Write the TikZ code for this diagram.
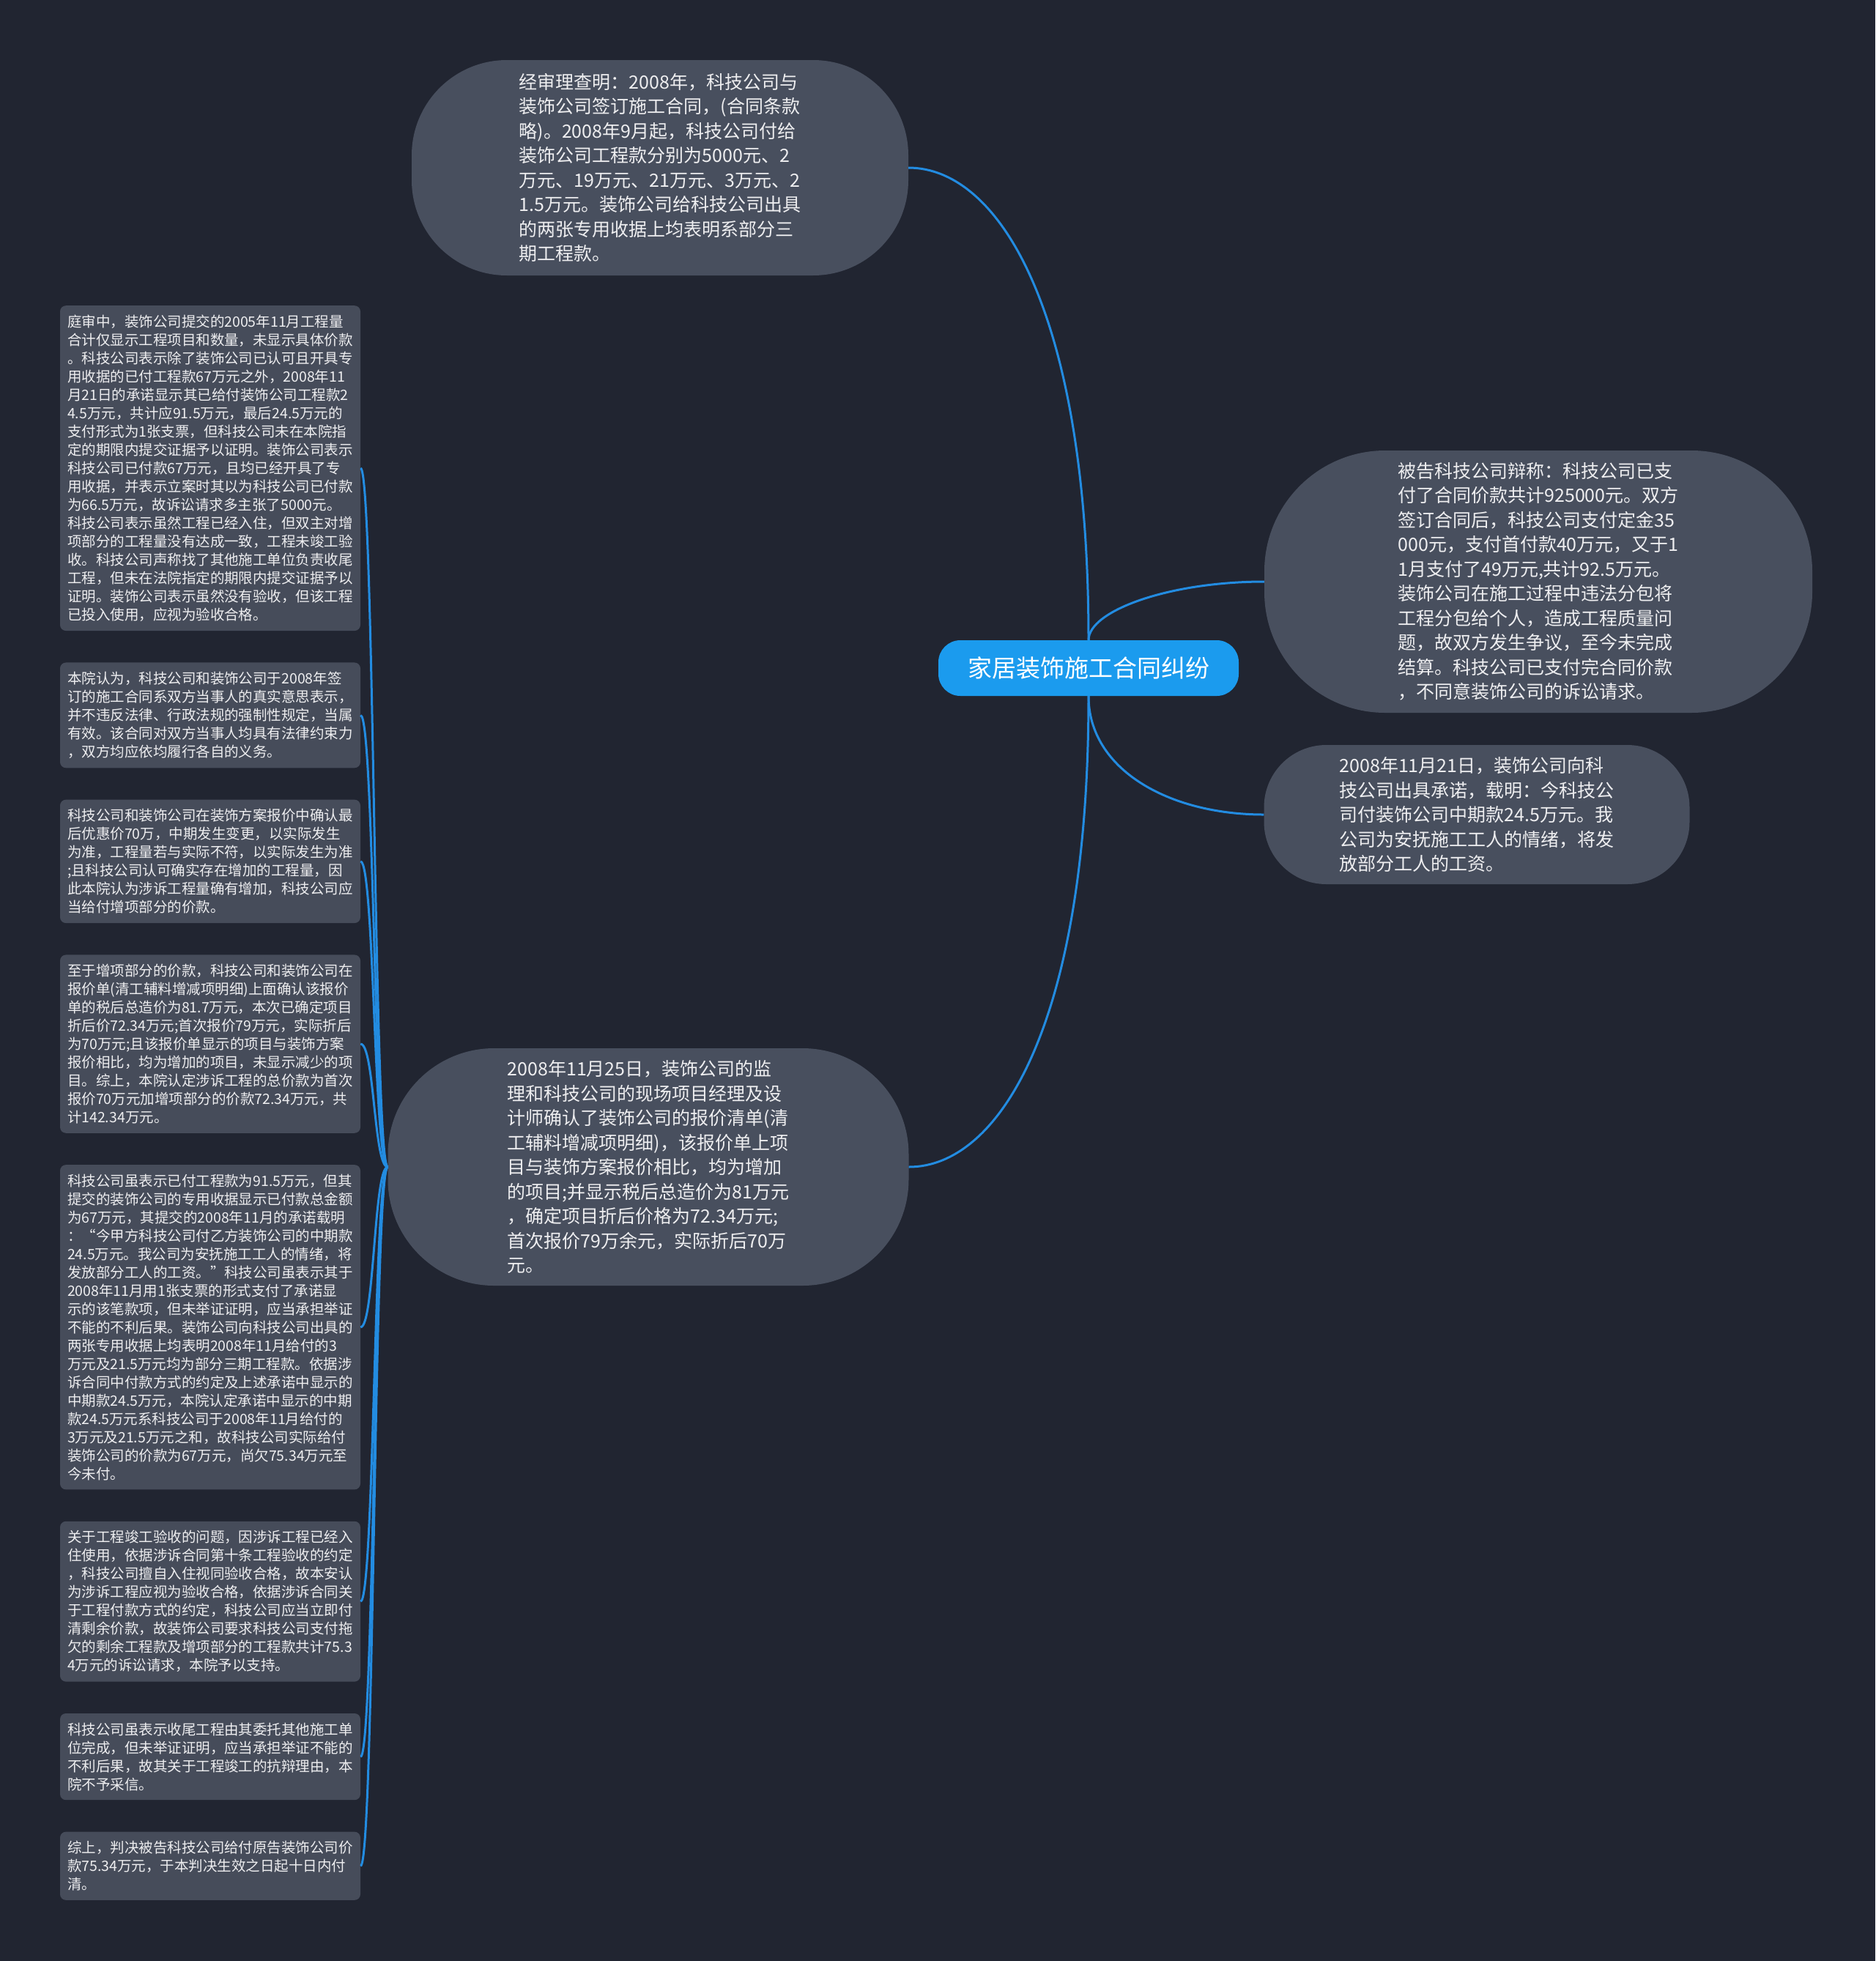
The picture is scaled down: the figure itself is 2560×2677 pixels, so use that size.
\documentclass[tikz,border=0pt]{standalone}
\usepackage{fontspec}
\usepackage{tikz}
\usetikzlibrary{positioning}
\newfontfamily\cjk{Noto Sans CJK SC}
\definecolor{bgc}{RGB}{33,37,49}
\definecolor{nodec}{RGB}{72,79,94}
\definecolor{leafc}{RGB}{70,76,90}
\definecolor{rootc}{RGB}{27,155,238}
\definecolor{linec}{RGB}{35,140,225}
\definecolor{txtc}{RGB}{238,238,240}

\begin{document}
\begin{tikzpicture}[x=1pt,y=-1pt,
  root/.style={fill=rootc,text=white,rounded corners=30pt,minimum width=410pt,minimum height=76pt,inner sep=0pt,font=\cjk\fontsize{33}{40}\selectfont},
  topic/.style={fill=nodec,text=txtc,align=left,inner sep=0pt,font=\cjk\fontsize{25}{33.5}\selectfont},
  leaf/.style={fill=leafc,text=txtc,align=left,rounded corners=8pt,minimum width=410pt,inner xsep=0pt,inner ysep=12.6pt,anchor=north,font=\cjk\fontsize{19.5}{25}\selectfont},
  link/.style={draw=linec,line width=3pt}]
  \fill[bgc] (0,0) rectangle (2560,2677);
  \useasboundingbox (0,0) rectangle (2560,2677);

  \node[root] (root) at (1486,912) {家居装饰施工合同纠纷};

  \node[topic,minimum width=678pt,minimum height=294pt,rounded corners=130pt] (fact) at (901,229) {经审理查明：2008年，科技公司与\\装饰公司签订施工合同，(合同条款\\略)。2008年9月起，科技公司付给\\装饰公司工程款分别为5000元、2\\万元、19万元、21万元、3万元、2\\1.5万元。装饰公司给科技公司出具\\的两张专用收据上均表明系部分三\\期工程款。};
  \node[topic,minimum width=748pt,minimum height=358pt,rounded corners=165pt] (defense) at (2100,794) {被告科技公司辩称：科技公司已支\\付了合同价款共计925000元。双方\\签订合同后，科技公司支付定金35\\000元，支付首付款40万元，又于1\\1月支付了49万元,共计92.5万元。\\装饰公司在施工过程中违法分包将\\工程分包给个人，造成工程质量问\\题，故双方发生争议，至今未完成\\结算。科技公司已支付完合同价款\\，不同意装饰公司的诉讼请求。};
  \node[topic,minimum width=581pt,minimum height=190pt,rounded corners=85pt] (promise) at (2016,1112) {2008年11月21日，装饰公司向科\\技公司出具承诺，载明：今科技公\\司付装饰公司中期款24.5万元。我\\公司为安抚施工工人的情绪，将发\\放部分工人的工资。};
  \node[topic,minimum width=711pt,minimum height=324pt,rounded corners=145pt] (quote) at (885,1593) {2008年11月25日，装饰公司的监\\理和科技公司的现场项目经理及设\\计师确认了装饰公司的报价清单(清\\工辅料增减项明细)，该报价单上项\\目与装饰方案报价相比，均为增加\\的项目;并显示税后总造价为81万元\\，确定项目折后价格为72.34万元;\\首次报价79万余元，实际折后70万\\元。};

  \node[leaf] (j1) at (287,417) {庭审中，装饰公司提交的2005年11月工程量\\合计仅显示工程项目和数量，未显示具体价款\\。科技公司表示除了装饰公司已认可且开具专\\用收据的已付工程款67万元之外，2008年11\\月21日的承诺显示其已给付装饰公司工程款2\\4.5万元，共计应91.5万元，最后24.5万元的\\支付形式为1张支票，但科技公司未在本院指\\定的期限内提交证据予以证明。装饰公司表示\\科技公司已付款67万元，且均已经开具了专\\用收据，并表示立案时其以为科技公司已付款\\为66.5万元，故诉讼请求多主张了5000元。\\科技公司表示虽然工程已经入住，但双主对增\\项部分的工程量没有达成一致，工程未竣工验\\收。科技公司声称找了其他施工单位负责收尾\\工程，但未在法院指定的期限内提交证据予以\\证明。装饰公司表示虽然没有验收，但该工程\\已投入使用，应视为验收合格。};
  \node[leaf,below=43pt of j1] (j2) {本院认为，科技公司和装饰公司于2008年签\\订的施工合同系双方当事人的真实意思表示，\\并不违反法律、行政法规的强制性规定，当属\\有效。该合同对双方当事人均具有法律约束力\\，双方均应依均履行各自的义务。};
  \node[leaf,below=43pt of j2] (j3) {科技公司和装饰公司在装饰方案报价中确认最\\后优惠价70万，中期发生变更，以实际发生\\为准，工程量若与实际不符，以实际发生为准\\;且科技公司认可确实存在增加的工程量，因\\此本院认为涉诉工程量确有增加，科技公司应\\当给付增项部分的价款。};
  \node[leaf,below=43pt of j3] (j4) {至于增项部分的价款，科技公司和装饰公司在\\报价单(清工辅料增减项明细)上面确认该报价\\单的税后总造价为81.7万元，本次已确定项目\\折后价72.34万元;首次报价79万元，实际折后\\为70万元;且该报价单显示的项目与装饰方案\\报价相比，均为增加的项目，未显示减少的项\\目。综上，本院认定涉诉工程的总价款为首次\\报价70万元加增项部分的价款72.34万元，共\\计142.34万元。};
  \node[leaf,below=43pt of j4] (j5) {科技公司虽表示已付工程款为91.5万元，但其\\提交的装饰公司的专用收据显示已付款总金额\\为67万元，其提交的2008年11月的承诺载明\\：“今甲方科技公司付乙方装饰公司的中期款\\24.5万元。我公司为安抚施工工人的情绪，将\\发放部分工人的工资。”科技公司虽表示其于\\2008年11月用1张支票的形式支付了承诺显\\示的该笔款项，但未举证证明，应当承担举证\\不能的不利后果。装饰公司向科技公司出具的\\两张专用收据上均表明2008年11月给付的3\\万元及21.5万元均为部分三期工程款。依据涉\\诉合同中付款方式的约定及上述承诺中显示的\\中期款24.5万元，本院认定承诺中显示的中期\\款24.5万元系科技公司于2008年11月给付的\\3万元及21.5万元之和，故科技公司实际给付\\装饰公司的价款为67万元，尚欠75.34万元至\\今未付。};
  \node[leaf,below=43pt of j5] (j6) {关于工程竣工验收的问题，因涉诉工程已经入\\住使用，依据涉诉合同第十条工程验收的约定\\，科技公司擅自入住视同验收合格，故本安认\\为涉诉工程应视为验收合格，依据涉诉合同关\\于工程付款方式的约定，科技公司应当立即付\\清剩余价款，故装饰公司要求科技公司支付拖\\欠的剩余工程款及增项部分的工程款共计75.3\\4万元的诉讼请求，本院予以支持。};
  \node[leaf,below=43pt of j6] (j7) {科技公司虽表示收尾工程由其委托其他施工单\\位完成，但未举证证明，应当承担举证不能的\\不利后果，故其关于工程竣工的抗辩理由，本\\院不予采信。};
  \node[leaf,below=43pt of j7] (j8) {综上，判决被告科技公司给付原告装饰公司价\\款75.34万元，于本判决生效之日起十日内付\\清。};

  \draw[link] (root.north) .. controls +(0,-447) and +(124,0) .. (fact.east);
  \draw[link] (root.north) .. controls +(0,-40) and +(-130,0) .. (defense.west);
  \draw[link] (root.south) .. controls +(0,100) and +(-130,0) .. (promise.west);
  \draw[link] (root.south) .. controls +(0,447) and +(124,0) .. (quote.east);
  \foreach \j in {1,...,8}
    \draw[link] (quote.west) .. controls +(-19,0) and +(19,0) .. (j\j.east);
\end{tikzpicture}
\end{document}
